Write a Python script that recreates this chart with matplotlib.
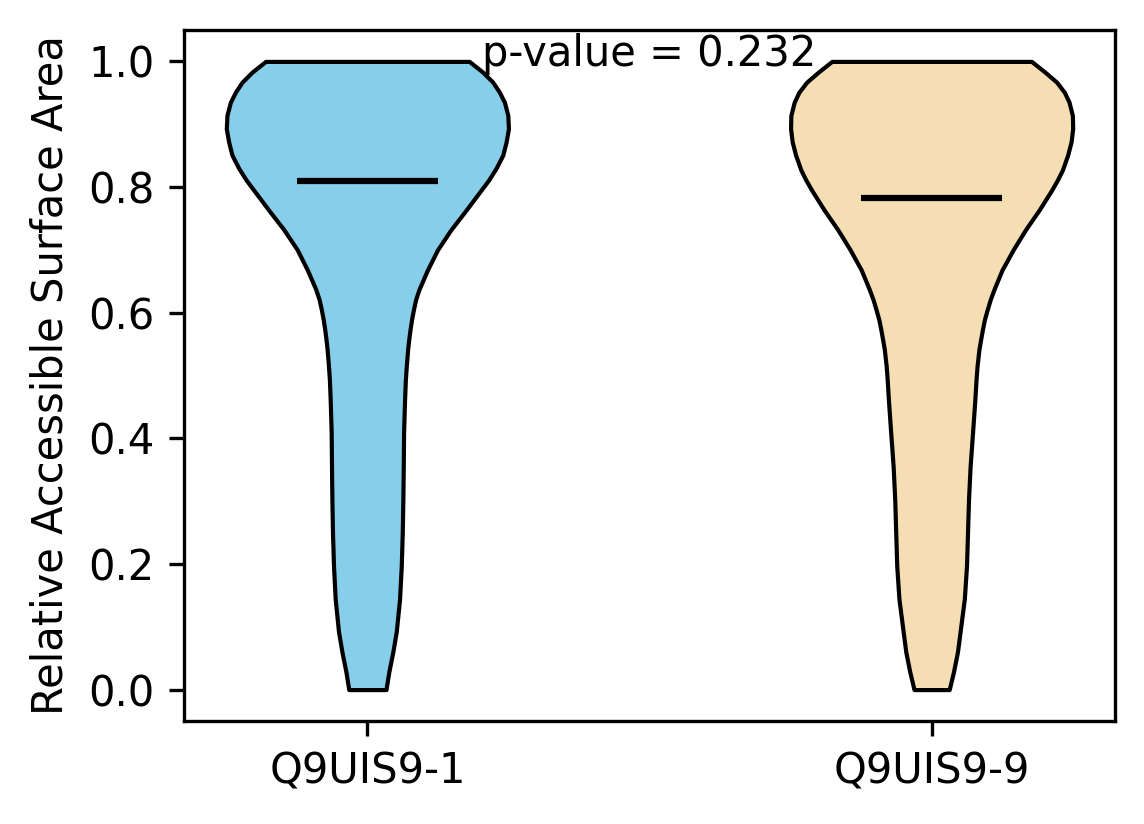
import matplotlib
matplotlib.use("Agg")
import matplotlib.pyplot as plt
import numpy as np

# groups shown on the x axis
labels = ["Q9UIS9-1", "Q9UIS9-9"]
colors = ["skyblue", "wheat"]
p_value = 0.232

# violin outline: y level -> half width (relative)
rsa_levels_1 = [1.000, 0.983, 0.967, 0.951, 0.935, 0.914, 0.893, 0.872, 0.851, 0.830,
                0.811, 0.795, 0.763, 0.732, 0.700, 0.668, 0.637, 0.621, 0.605, 0.589,
                0.573, 0.557, 0.541, 0.515, 0.494, 0.462, 0.409, 0.356, 0.303, 0.250,
                0.197, 0.144, 0.092, 0.060, 0.028, 0.000]
density_1 = [101.3, 114.7, 124.7, 131.3, 136.3, 139.7, 140.3, 138.0, 134.7, 128.0,
             120.5, 113.0, 98.0, 83.0, 69.7, 59.7, 51.3, 48.0, 45.8, 43.9,
             42.4, 41.1, 40.0, 38.7, 37.8, 37.0, 36.0, 35.7, 35.3, 34.7,
             33.7, 32.0, 28.7, 25.3, 21.3, 18.5]
mean_1 = 0.810

rsa_levels_2 = [1.000, 0.983, 0.967, 0.951, 0.935, 0.914, 0.893, 0.872, 0.851, 0.827,
                0.811, 0.795, 0.763, 0.732, 0.700, 0.668, 0.637, 0.621, 0.605, 0.589,
                0.573, 0.557, 0.541, 0.515, 0.494, 0.462, 0.409, 0.356, 0.303, 0.250,
                0.197, 0.144, 0.092, 0.060, 0.028, 0.000]
density_2 = [99.3, 112.7, 124.3, 132.0, 136.7, 140.0, 140.3, 138.7, 135.3, 130.0,
             125.0, 119.3, 106.7, 93.3, 81.0, 70.0, 62.0, 58.3, 55.3, 52.5,
             50.5, 48.7, 47.0, 45.2, 44.2, 43.0, 40.7, 38.3, 36.7, 35.7,
             34.7, 32.5, 28.3, 25.7, 21.7, 17.5]
mean_2 = 0.783


def make_stats(levels, dens, mean):
    return {"coords": np.array(levels[::-1]), "vals": np.array(dens[::-1]),
            "mean": mean, "median": mean, "min": min(levels), "max": max(levels)}


vpstats = [make_stats(rsa_levels_1, density_1, mean_1),
           make_stats(rsa_levels_2, density_2, mean_2)]
positions = [1, 2]

fig = plt.figure(figsize=(1144 / 300, 824 / 300), dpi=300)
ax = fig.add_axes([184 / 1144, 1 - 721 / 824, (1115 - 184) / 1144, (721 - 30) / 824])

parts = ax.violin(vpstats, positions=positions, widths=0.5,
                  showmeans=True, showextrema=False)
for body, c in zip(parts["bodies"], colors):
    body.set_facecolor(c)
    body.set_edgecolor("black")
    body.set_linewidth(1.0)
    body.set_alpha(1)
parts["cmeans"].set_color("black")
parts["cmeans"].set_linewidth(1.5)

ax.set_xticks(positions)
ax.set_xticklabels(labels)
ax.set_ylabel("Relative Accessible Surface Area")
ax.text(1.5, 0.992, "p-value = %.3f" % p_value, ha="center")

fig.savefig("out.png", dpi=300)
